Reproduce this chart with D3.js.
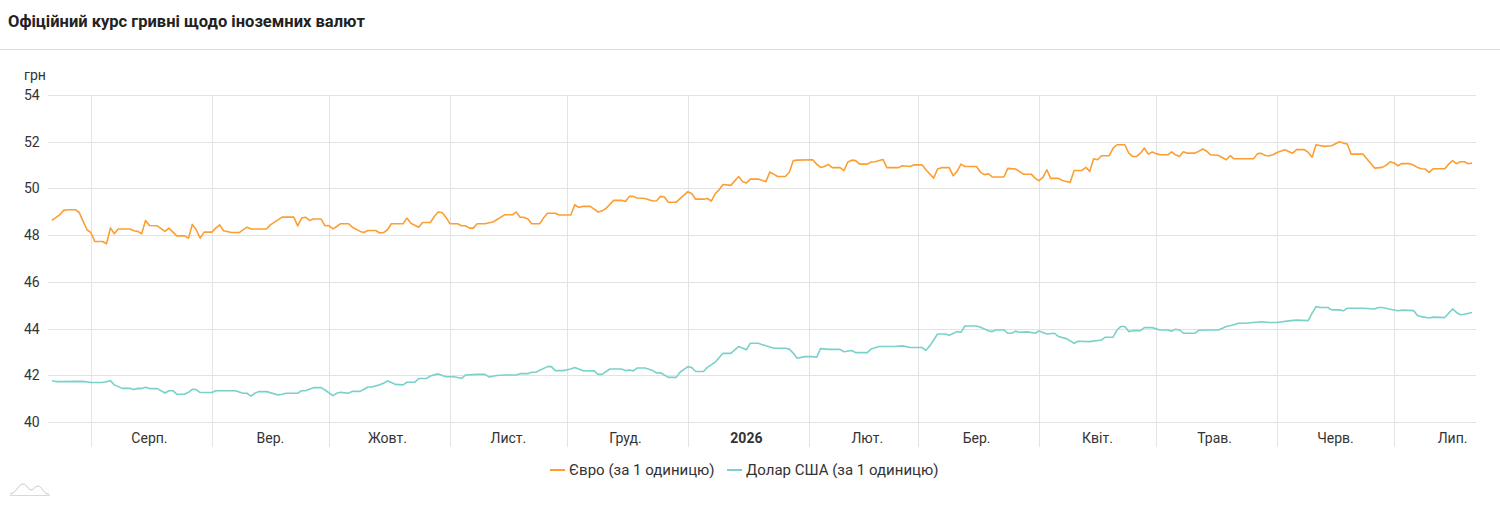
<!DOCTYPE html>
<html lang="uk">
<head>
<meta charset="utf-8">
<script src="https://cdn.jsdelivr.net/npm/d3@7"></script>
<style>
  body { margin: 0; background: #fff; font-family: Roboto, "Noto Sans", sans-serif; }
  .axis text { fill: #333; font-size: 14px; }
  .legend text { fill: #333; font-size: 15px; }
</style>
</head>
<body>
<div id="chart"></div>
<script>
// DATA (day offsets from 22.07.2025, rate in UAH)

let startDate = Date.UTC(2025, 6, 22)

let euroDays = [0, 2, 3, 4, 6, 7, 8, 9, 10, 11, 13, 14, 15, 16, 17, 20, 21, 22, 23, 24, 25, 27, 29, 30, 32, 34, 35, 36, 37, 38, 39, 41, 42, 43, 44, 46, 48, 50, 51, 55, 56, 59, 62, 63, 64, 65, 66, 67, 69, 70, 71, 72, 73, 74, 76, 77, 79, 80, 81, 83, 84, 85, 86, 87,
  90, 91, 92, 94, 95, 97, 98, 99, 100, 101, 102, 104, 105, 106, 107, 108, 109, 111, 113, 114, 116, 118, 119, 120, 121, 122, 123, 125, 126, 127, 129, 130, 132,
  133, 134, 135, 136, 138, 140, 141, 142, 144, 146, 147, 148, 149, 150, 152, 154, 155, 156, 157, 158, 160, 161, 163, 164, 165, 167, 168, 169, 170, 171, 172, 174, 176, 177,
  178, 179, 181, 183, 184, 185, 186, 188, 189, 190, 191, 195, 196, 197, 198, 199, 200, 202, 203, 204, 205, 206, 207, 209, 210, 211, 213, 214, 217, 218, 220, 221, 223,
  224, 226, 227, 228, 230, 231, 232, 233, 234, 237, 238, 239, 240, 241, 244, 245, 247, 249, 251, 252, 253, 254, 255, 256, 258, 259, 260, 261, 262, 264, 265, 266,
  267, 268, 269, 271, 272, 273, 275, 276, 277, 278, 279, 280, 281, 282, 283, 284, 286, 287, 288, 289, 290, 291, 293, 295, 296, 297, 299, 301, 302, 303, 308, 309, 310, 311, 312,
  313, 314, 316, 318, 319, 321, 322, 323, 324, 325, 326, 328, 330, 331, 332, 333, 336, 337, 339, 341, 342, 343, 344,
  345, 346, 348, 349, 350, 351, 352, 353, 354, 357, 358, 359, 360, 361, 362, 363, 364]

let euroRates = [48.63, 48.87, 49.06, 49.09, 49.09, 48.97, 48.59, 48.23, 48.11, 47.73, 47.73, 47.63, 48.31, 48.06, 48.26, 48.26, 48.19, 48.16, 48.06, 48.63, 48.41, 48.40, 48.16, 48.30, 47.97, 47.97, 47.87, 48.46, 48.23, 47.87, 48.13, 48.13, 48.30, 48.44, 48.19, 48.11, 48.11, 48.34, 48.26, 48.26, 48.44, 48.77, 48.77, 48.40, 48.73, 48.77, 48.63, 48.69, 48.69, 48.40, 48.41, 48.27, 48.37, 48.49, 48.49, 48.34, 48.16, 48.11, 48.20, 48.20, 48.09, 48.11, 48.23, 48.49,
  48.49, 48.73, 48.51, 48.34, 48.54, 48.54, 48.80, 48.99, 48.97, 48.77, 48.49, 48.49, 48.40, 48.40, 48.30, 48.30, 48.49, 48.49, 48.56, 48.66, 48.87, 48.87, 48.99, 48.77, 48.76, 48.69, 48.49, 48.49, 48.73, 48.94, 48.94, 48.86, 48.86,
  48.86, 49.30, 49.19, 49.23, 49.23, 48.99, 49.04, 49.14, 49.49, 49.49, 49.44, 49.66, 49.66, 49.59, 49.57, 49.46, 49.47, 49.66, 49.63, 49.41, 49.41, 49.56, 49.86, 49.77, 49.54, 49.54, 49.57, 49.46, 49.77, 49.94, 50.17, 50.13, 50.51, 50.30,
  50.23, 50.40, 50.40, 50.29, 50.70, 50.61, 50.51, 50.51, 50.69, 51.19, 51.21, 51.23, 51.04, 50.90, 50.94, 51.03, 50.89, 50.89, 50.76, 51.13, 51.21, 51.19, 51.04, 51.04, 51.13, 51.14, 51.24, 50.89, 50.89, 50.97, 50.94, 51.01, 51.01,
  50.80, 50.44, 50.83, 50.89, 50.89, 50.54, 50.73, 51.04, 50.94, 50.94, 50.69, 50.59, 50.63, 50.49, 50.49, 50.86, 50.83, 50.61, 50.61, 50.44, 50.33, 50.47, 50.80, 50.43, 50.43, 50.34, 50.30, 50.26, 50.77, 50.77, 50.90, 50.73,
  51.27, 51.23, 51.40, 51.40, 51.73, 51.87, 51.87, 51.51, 51.37, 51.37, 51.51, 51.73, 51.47, 51.56, 51.49, 51.44, 51.44, 51.57, 51.44, 51.37, 51.57, 51.51, 51.51, 51.69, 51.59, 51.44, 51.41, 51.23, 51.40, 51.27, 51.27, 51.49, 51.50, 51.41, 51.40,
  51.44, 51.54, 51.66, 51.51, 51.66, 51.66, 51.54, 51.34, 51.87, 51.84, 51.80, 51.83, 52.00, 51.94, 51.90, 51.47, 51.47, 51.27, 50.87, 50.90, 51.00, 51.14, 51.09,
  50.97, 51.07, 51.06, 50.99, 50.90, 50.84, 50.83, 50.69, 50.84, 50.84, 51.04, 51.19, 51.06, 51.14, 51.14, 51.06, 51.09]

let usdDays = [0, 1, 8, 10, 13, 15, 16, 18, 20, 21, 22, 23, 24, 25, 27, 29, 30, 31, 32, 34, 35, 36, 37, 38, 41, 42, 47, 49, 50, 51, 52, 53, 55, 58, 59, 60, 63, 64, 65, 67, 69, 70, 72, 73, 74, 76, 77, 79, 80, 81, 82, 84, 85, 86, 87, 88,
  90, 91, 93, 94, 96, 97, 99, 101, 103, 105, 106, 109, 111, 112, 114, 116, 119, 120, 122, 123, 124, 127, 128, 129, 131,
  133, 134, 136, 139, 140, 141, 143, 146, 147, 148, 149, 150, 152, 154, 155, 156, 158, 160, 161, 163, 164, 165, 167, 168, 170, 172, 174, 176,
  178, 179, 181, 183, 185, 188, 189, 190, 191, 193, 195, 196, 197, 199, 202, 203, 205, 206, 209, 210, 212, 216, 218, 220, 223,
  224, 225, 226, 227, 229, 230, 232, 233, 234, 237, 238, 240, 241, 242, 244, 245, 246, 247, 248, 250, 252, 253, 255, 257, 258, 260, 262, 263, 266,
  268, 269, 270, 272, 273, 274, 275, 276, 277, 279, 280, 282, 284, 286, 287, 288, 289, 290, 293, 294, 296, 299, 301, 303, 304, 306, 308, 310, 312,
  314, 317, 319, 322, 323, 324, 325, 327, 328, 330, 331, 332, 336, 339, 340, 341, 343,
  345, 346, 349, 350, 351, 353, 354, 357, 358, 359, 360, 361, 362, 364]

let usdRates = [41.77, 41.73, 41.74, 41.69, 41.69, 41.77, 41.59, 41.44, 41.44, 41.39, 41.44, 41.43, 41.49, 41.43, 41.43, 41.24, 41.34, 41.34, 41.19, 41.19, 41.27, 41.40, 41.39, 41.26, 41.26, 41.34, 41.34, 41.23, 41.23, 41.11, 41.23, 41.30, 41.30, 41.16, 41.19, 41.23, 41.23, 41.34, 41.34, 41.47, 41.47, 41.37, 41.13, 41.23, 41.27, 41.23, 41.31, 41.31, 41.40, 41.50, 41.50, 41.59, 41.66, 41.76, 41.69, 41.61,
  41.59, 41.70, 41.70, 41.86, 41.86, 41.97, 42.06, 41.94, 41.94, 41.87, 42.01, 42.04, 42.04, 41.93, 41.99, 42.01, 42.01, 42.07, 42.07, 42.13, 42.13, 42.37, 42.37, 42.20, 42.20,
  42.27, 42.33, 42.20, 42.19, 42.04, 42.04, 42.27, 42.27, 42.20, 42.23, 42.19, 42.31, 42.31, 42.20, 42.10, 42.11, 41.91, 41.91, 42.13, 42.37, 42.33, 42.16, 42.16, 42.34, 42.56, 42.94, 42.94, 43.23,
  43.09, 43.37, 43.37, 43.26, 43.16, 43.16, 43.12, 42.95, 42.73, 42.80, 42.80, 42.77, 43.14, 43.11, 43.11, 43.01, 43.06, 42.97, 42.97, 43.13, 43.23, 43.23, 43.26, 43.19, 43.19,
  43.07, 43.26, 43.51, 43.77, 43.77, 43.71, 43.87, 43.84, 44.11, 44.11, 44.06, 43.91, 43.87, 43.94, 43.94, 43.80, 43.80, 43.89, 43.84, 43.86, 43.80, 43.90, 43.77, 43.80, 43.66, 43.57, 43.37, 43.46, 43.44,
  43.49, 43.51, 43.63, 43.63, 43.94, 44.09, 44.09, 43.87, 43.91, 43.91, 44.04, 44.04, 43.94, 43.94, 43.89, 43.97, 43.94, 43.80, 43.80, 43.93, 43.94, 43.94, 44.09, 44.16, 44.23, 44.23, 44.26, 44.29, 44.26,
  44.26, 44.33, 44.36, 44.34, 44.66, 44.94, 44.90, 44.90, 44.80, 44.80, 44.76, 44.87, 44.87, 44.84, 44.90, 44.90, 44.83,
  44.76, 44.79, 44.77, 44.56, 44.51, 44.45, 44.49, 44.47, 44.66, 44.84, 44.69, 44.59, 44.61, 44.69]

let monthLabels = ["Серп.", "Вер.", "Жовт.", "Лист.", "Груд.", "2026", "Лют.", "Бер.", "Квіт.", "Трав.", "Черв.", "Лип."]
let yTicks = [40, 42, 44, 46, 48, 50, 52, 54]

let seriesNames = ["Євро (за 1 одиницю)", "Долар США (за 1 одиницю)"]
let seriesColors = ["#fb9f33", "#7ad1ca"]

let toDate = d => d3.utcDay.offset(new Date(startDate), d)

let series = [
  euroDays.map((d, i) => ({date: toDate(d), value: euroRates[i]})),
  usdDays.map((d, i) => ({date: toDate(d), value: usdRates[i]}))
]

// CHART AREA
let width = 1500, height = 505
let plot = {left: 48, right: 1476, top: 95, bottom: 422}

let svg = d3.select("#chart").append("svg")
    .attr("width", width)
    .attr("height", height)
    .style("display", "block")

// title + separator
svg.append("text")
    .attr("x", 8)
    .attr("y", 27)
    .attr("font-size", "16.5px")
    .attr("font-weight", "bold")
    .attr("fill", "#222")
    .text("Офіційний курс гривні щодо іноземних валют")

svg.append("line")
    .attr("x1", 0).attr("x2", width)
    .attr("y1", 49.5).attr("y2", 49.5)
    .attr("stroke", "#dcdcdc")

// SCALES
let x = d3.scaleUtc()
    .domain([toDate(-1), toDate(365)])
    .range([plot.left, plot.right])

let y = d3.scaleLinear()
    .domain([40, 54])
    .range([plot.bottom, plot.top])

// GRID
let months = d3.utcMonth.range(new Date(Date.UTC(2025, 7, 1)), new Date(Date.UTC(2026, 6, 2)))

svg.append("g")
    .selectAll("line")
    .data(yTicks)
    .join("line")
    .attr("x1", plot.left).attr("x2", plot.right)
    .attr("y1", d => Math.round(y(d)) + 0.5)
    .attr("y2", d => Math.round(y(d)) + 0.5)
    .attr("stroke", "#e3e3e3")

svg.append("g")
    .selectAll("line")
    .data(months)
    .join("line")
    .attr("x1", d => Math.round(x(d)) + 0.5)
    .attr("x2", d => Math.round(x(d)) + 0.5)
    .attr("y1", plot.top)
    .attr("y2", 447)
    .attr("stroke", "#e3e3e3")

// AXIS LABELS
let yAxis = svg.append("g").attr("class", "axis")
yAxis.selectAll("text")
    .data(yTicks)
    .join("text")
    .attr("x", 24)
    .attr("y", d => y(d) + 5)
    .text(d => d)

yAxis.append("text")
    .attr("x", 24)
    .attr("y", 80)
    .text("грн")

svg.append("g").attr("class", "axis")
    .selectAll("text")
    .data(months)
    .join("text")
    .attr("x", d => x(d3.utcDay.offset(d, 15)))
    .attr("y", 443)
    .attr("text-anchor", "middle")
    .attr("font-weight", (d, i) => monthLabels[i] == "2026" ? "bold" : "normal")
    .text((d, i) => monthLabels[i])

// LINES
let line = d3.line()
    .x(d => x(d.date))
    .y(d => y(d.value))

svg.append("g")
    .selectAll("path")
    .data(series)
    .join("path")
    .attr("d", line)
    .attr("fill", "none")
    .attr("stroke", (d, i) => seriesColors[i])
    .attr("stroke-width", 1.6)
    .attr("stroke-linejoin", "round")

// LEGEND
let legend = svg.append("g").attr("class", "legend")
let legendX = [550, 727]
seriesNames.forEach((name, i) => {
    legend.append("line")
        .attr("x1", legendX[i]).attr("x2", legendX[i] + 15)
        .attr("y1", 470).attr("y2", 470)
        .attr("stroke", seriesColors[i])
        .attr("stroke-width", 2)
    legend.append("text")
        .attr("x", legendX[i] + 19)
        .attr("y", 475)
        .text(name)
})

// little logo bottom-left
svg.append("path")
    .attr("d", "M10,494 C16,494 18,484 23,484 C27,484 28,490 31,490 C34,490 35,486 38,486 C42,486 43,494 49,494")
    .attr("fill", "none")
    .attr("stroke", "#c8c8c8")
    .attr("stroke-width", 1)
svg.append("line")
    .attr("x1", 10).attr("x2", 50)
    .attr("y1", 495.5).attr("y2", 495.5)
    .attr("stroke", "#d8d8d8")
</script>
</body>
</html>
